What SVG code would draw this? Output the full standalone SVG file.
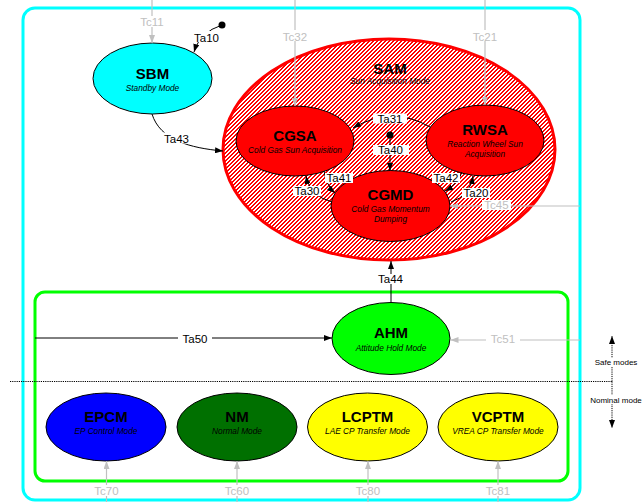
<svg xmlns="http://www.w3.org/2000/svg" width="643" height="502" viewBox="0 0 643 502">
<style>
text{font-family:"Liberation Sans",Arial,sans-serif;text-anchor:middle}
.t{font-weight:bold;font-size:15px;fill:#000}
.s{font-style:italic;font-size:8.3px;fill:#000}
.l{font-size:11.5px;fill:#000}
.g{font-size:11.5px;fill:#c0c0c0}
.bg{fill:#fff}
.n{stroke:#000;stroke-width:1}
.c{fill:none;stroke:#000;stroke-width:1}
.cg{fill:none;stroke:#c0c0c0;stroke-width:1.2}
.d{fill:none;stroke:#000;stroke-width:1;stroke-dasharray:1.2,1}
.ms{font-size:8px;fill:#000}
</style>
<defs>
<pattern id="hatch" width="4" height="4" patternUnits="userSpaceOnUse">
<rect width="4" height="4" fill="#ff0000"/>
<path d="M3,0h1v1h-1zM0,0h1v1h-1zM2,1h2v1h-2zM1,2h2v1h-2zM0,3h2v1h-2z" fill="#ffffff" shape-rendering="crispEdges"/>
</pattern>
<marker id="ab" viewBox="0 0 8 6" refX="8" refY="3" markerWidth="8" markerHeight="6" orient="auto" markerUnits="userSpaceOnUse"><path d="M0,0 L8,3 L0,6 z" fill="#000"/></marker>
<marker id="ag" viewBox="0 0 8 6" refX="8" refY="3" markerWidth="8" markerHeight="6" orient="auto" markerUnits="userSpaceOnUse"><path d="M0,0 L8,3 L0,6 z" fill="#c0c0c0"/></marker>
</defs>
<rect width="643" height="502" fill="#fff"/>
<g id="frames">
<rect x="23" y="8" width="557" height="492" rx="12" fill="none" stroke="#00ffff" stroke-width="3"/>
<rect x="35" y="292" width="533" height="189" rx="10" fill="none" stroke="#00ff00" stroke-width="3"/>
</g>
<g id="SBM"><ellipse cx="152.5" cy="78.5" rx="59.5" ry="35.5" fill="#00ffff" class="n"/><text x="152.5" y="79.3" class="t">SBM</text><text x="152.5" y="90.5" class="s">Standby Mode</text></g>
<g id="SAM"><ellipse cx="389" cy="149.5" rx="166" ry="110.5" fill="url(#hatch)" stroke="#ff0000" stroke-width="3"/><text x="390" y="74" class="t">SAM</text><text x="390" y="84" class="s">Sun Acquisition Mode</text></g>
<g id="CGSA"><ellipse cx="295" cy="141" rx="59" ry="35" fill="#ff0000" class="n"/><text x="295" y="140.7" class="t">CGSA</text><text x="295" y="152.5" class="s">Cold Gas Sun Acquisition</text></g>
<g id="RWSA"><ellipse cx="485" cy="140.5" rx="59" ry="35.5" fill="#ff0000" class="n"/><text x="485" y="135.3" class="t">RWSA</text><text x="485" y="146.7" class="s">Reaction Wheel Sun</text><text x="485" y="156.7" class="s">Acquisition</text></g>
<g id="CGMD"><ellipse cx="390.5" cy="206" rx="59.5" ry="35.5" fill="#ff0000" class="n"/><text x="390.5" y="200" class="t">CGMD</text><text x="390.5" y="212" class="s">Cold Gas Momentum</text><text x="390.5" y="222" class="s">Dumping</text></g>
<g id="AHM"><ellipse cx="391" cy="338.5" rx="59" ry="36" fill="#00ff00" class="n"/><text x="391" y="338.3" class="t">AHM</text><text x="391" y="350.5" class="s">Attitude Hold Mode</text></g>
<g id="EPCM"><ellipse cx="106" cy="427" rx="60" ry="34" fill="#0000ff" class="n"/><text x="106" y="421.7" class="t">EPCM</text><text x="106" y="434" class="s">EP Control Mode</text></g>
<g id="NM"><ellipse cx="237" cy="427" rx="60" ry="34" fill="#007000" class="n"/><text x="237" y="421.7" class="t">NM</text><text x="237" y="434" class="s">Normal Mode</text></g>
<g id="LCPTM"><ellipse cx="367.5" cy="427" rx="60" ry="34" fill="#ffff00" class="n"/><text x="367.5" y="421.7" class="t">LCPTM</text><text x="367.5" y="434" class="s">LAE CP Transfer Mode</text></g>
<g id="VCPTM"><ellipse cx="498" cy="427" rx="60" ry="34" fill="#ffff00" class="n"/><text x="498" y="421.7" class="t">VCPTM</text><text x="498" y="434" class="s">VREA CP Transfer Mode</text></g>
<g id="connectors">
<path class="cg" d="M152,0 V43" marker-end="url(#ag)"/>
<rect class="bg" x="138" y="16" width="28" height="11"/><text x="152" y="26" class="g">Tc11</text>
<circle cx="222" cy="25" r="3.5" fill="#000"/>
<path class="c" d="M222,25 Q200,32 194,52" marker-end="url(#ab)"/>
<rect class="bg" x="192" y="31" width="29" height="11"/><text x="206.5" y="41.5" class="l">Ta10</text>
<path class="c" d="M152,114 C160,140 190,148 223,151" marker-end="url(#ab)"/>
<rect class="bg" x="162" y="132.5" width="29" height="11"/><text x="176.5" y="142.5" class="l">Ta43</text>
<path class="cg" d="M295,0 V106" marker-end="url(#ag)"/>
<rect class="bg" x="281" y="30" width="28" height="11"/><text x="295" y="40.5" class="g">Tc32</text>
<path class="cg" d="M485,0 V105" marker-end="url(#ag)"/>
<rect class="bg" x="471" y="30" width="28" height="11"/><text x="485" y="40.5" class="g">Tc21</text>
<path class="c" d="M430,127 Q392,105 353,128" marker-end="url(#ab)"/>
<rect class="bg" x="373" y="113.5" width="34" height="10"/><text x="390" y="123" class="l">Ta31</text>
<circle cx="390" cy="135" r="3.5" fill="#000"/>
<path class="c" d="M390,135 V171" marker-end="url(#ab)"/>
<rect class="bg" x="373" y="145" width="36" height="10"/><text x="390.5" y="154" class="l">Ta40</text>
<path class="c" d="M324,171 Q326,185 335,193" marker-end="url(#ab)"/>
<rect class="bg" x="325" y="173" width="28" height="10"/><text x="339" y="182" class="l">Ta41</text>
<path class="c" d="M332,202 Q310,196 306,176" marker-end="url(#ab)"/>
<rect class="bg" x="293" y="186" width="28" height="10"/><text x="307" y="195" class="l">Ta30</text>
<path class="c" d="M462,172 Q458,184 445,191" marker-end="url(#ab)"/>
<rect class="bg" x="432" y="173" width="28" height="10"/><text x="446" y="182" class="l">Ta42</text>
<path class="c" d="M451,202 Q470,196 473,176" marker-end="url(#ab)"/>
<rect class="bg" x="462" y="188" width="28" height="10"/><text x="476" y="197" class="l">Ta20</text>
<path class="cg" d="M580,206 H450" marker-end="url(#ag)"/>
<rect class="bg" x="482" y="200" width="29" height="10"/><text x="496.5" y="209" class="g">Tc45</text>
<path class="c" d="M391,302 V261" marker-end="url(#ab)"/>
<rect class="bg" x="376" y="274" width="29" height="10"/><text x="390.5" y="283" class="l">Ta44</text>
<path class="c" d="M35,338 H332" marker-end="url(#ab)"/>
<rect class="bg" x="178" y="333" width="34" height="11"/><text x="195" y="343" class="l">Ta50</text>
<path class="cg" d="M580,340 H450.5" marker-end="url(#ag)"/>
<rect class="bg" x="486" y="334" width="34" height="11"/><text x="503" y="343" class="g">Tc51</text>
<path class="cg" d="M106.5,502 V461" marker-end="url(#ag)"/>
<rect class="bg" x="92" y="485" width="29" height="11"/><text x="106.5" y="495" class="g">Tc70</text>
<path class="cg" d="M237,502 V461" marker-end="url(#ag)"/>
<rect class="bg" x="223" y="485" width="29" height="11"/><text x="237" y="495" class="g">Tc60</text>
<path class="cg" d="M368,502 V461" marker-end="url(#ag)"/>
<rect class="bg" x="354" y="485" width="29" height="11"/><text x="368" y="495" class="g">Tc80</text>
<path class="cg" d="M498,502 V461" marker-end="url(#ag)"/>
<rect class="bg" x="484" y="485" width="29" height="11"/><text x="498" y="495" class="g">Tc81</text>
</g>
<g id="mode-divider">
<path class="d" d="M10,381.5 H612"/>
<path class="d" d="M612,381.5 V336" marker-end="url(#ab)"/>
<path class="d" d="M612,381.5 V428" marker-end="url(#ab)"/>
<rect class="bg" x="594" y="358" width="45" height="9"/><text x="616" y="365" class="ms">Safe modes</text>
<rect class="bg" x="589" y="395" width="54" height="9"/><text x="616" y="402.5" class="ms">Nominal mode</text>
</g>
</svg>
